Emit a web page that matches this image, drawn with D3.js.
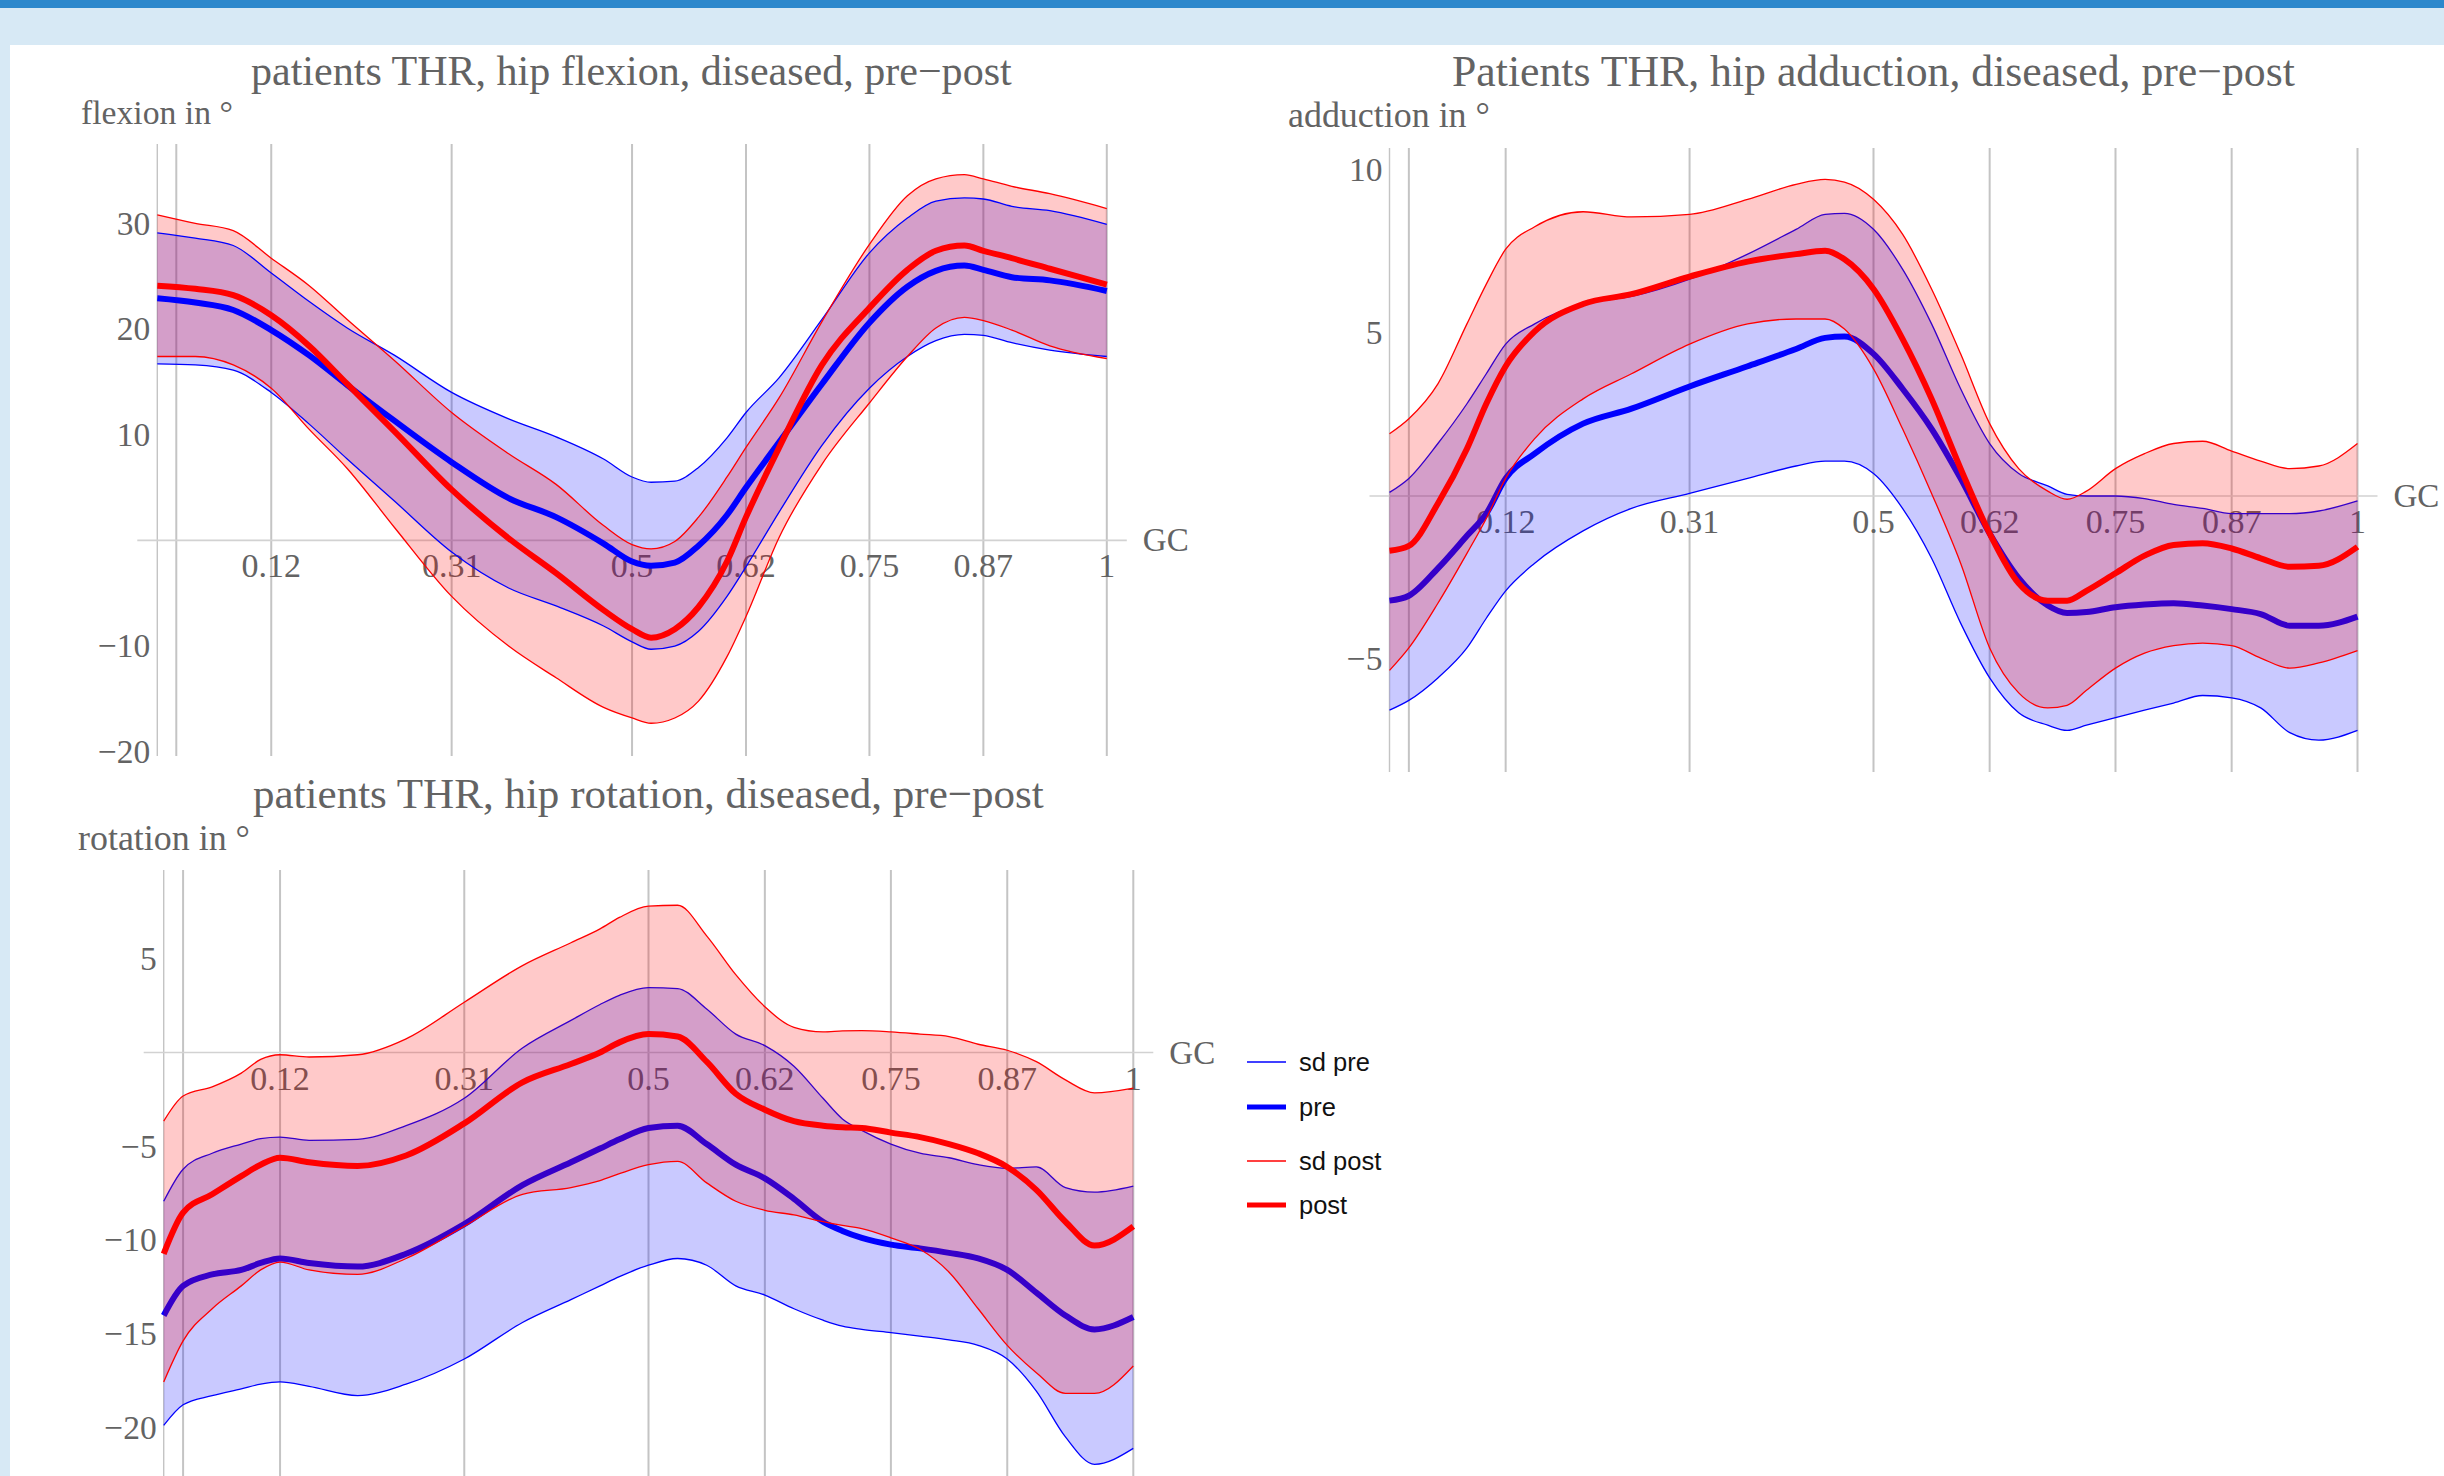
<!DOCTYPE html>
<html><head><meta charset="utf-8">
<script src="https://cdn.jsdelivr.net/npm/d3@7"></script>
<style>html,body{margin:0;padding:0;background:#d7e9f5;overflow:hidden}</style>
</head><body>
<svg id="chart" width="2444" height="1476"></svg>
<script>
// ---------------- DATA ----------------
const titles = ["patients THR, hip flexion, diseased, pre\u2212post",
                "Patients THR, hip adduction, diseased, pre\u2212post",
                "patients THR, hip rotation, diseased, pre\u2212post"];
const yLabels = ["flexion in \u00B0", "adduction in \u00B0", "rotation in \u00B0"];
const xAxisName = "GC";
const gridValues = [0.02, 0.12, 0.31, 0.5, 0.62, 0.75, 0.87, 1];
const xTickValues = [0.12, 0.31, 0.5, 0.62, 0.75, 0.87, 1];
const xTickLabels = ["0.12", "0.31", "0.5", "0.62", "0.75", "0.87", "1"];
const flexYTicks = [30, 20, 10, -10, -20];
const addYTicks = [10, 5, -5];
const rotYTicks = [5, -5, -10, -15, -20];
const legendLabels = ["sd pre", "pre", "sd post", "post"];

// flexion (gait cycle sample points)
const gcFlex = [0,0.04,0.08,0.12,0.16,0.2,0.25,0.31,0.37,0.42,0.47,0.5,0.52,0.545,0.57,0.6,0.62,0.655,0.7,0.75,0.79,0.82,0.85,0.87,0.9,0.94,1];
const flexPreMean  = [22.9,22.5,21.8,19.9,17.5,14.7,11.3,7.4,4.0,2.2,-0.3,-2.0,-2.4,-2.1,-0.5,2.4,5.0,9.3,14.8,20.6,24.0,25.5,26.0,25.6,24.9,24.6,23.6];
const flexPreUpper = [29.1,28.6,27.9,25.3,22.6,20.1,17.5,14.0,11.5,9.8,7.7,6.0,5.5,5.6,6.9,9.7,12.1,15.4,20.9,27.2,30.5,32.1,32.4,32.3,31.6,31.2,29.9];
const flexPreLower = [16.7,16.6,16.1,14.0,11.0,7.7,3.7,-1.1,-4.5,-6.2,-8.1,-9.6,-10.3,-10.0,-8.6,-5.3,-2.5,2.7,9.0,14.4,17.4,18.9,19.5,19.4,18.7,18.0,17.4];
const flexPostMean  = [24.1,23.8,23.2,21.3,18.4,14.8,10.3,4.8,0.2,-3.1,-6.6,-8.4,-9.2,-8.4,-6.3,-2.0,2.2,8.8,16.6,22.0,25.6,27.4,27.9,27.4,26.7,25.7,24.2];
const flexPostUpper = [30.8,30.0,29.3,26.7,24.1,20.9,17.0,12.1,8.2,5.3,1.4,-0.4,-0.8,-0.1,2.2,6.0,8.8,13.5,20.7,28.0,32.6,34.2,34.6,34.2,33.5,32.8,31.4];
const flexPostLower = [17.4,17.4,16.6,14.4,10.5,6.8,1.2,-5.3,-10.0,-13.0,-15.8,-16.8,-17.3,-16.8,-15.2,-11.0,-7.2,0.3,7.2,13.0,17.4,20.1,21.1,20.8,19.9,18.4,17.2];

// adduction and rotation (gait cycle sample points)
const gcAR = [0,0.02,0.05,0.08,0.1,0.12,0.15,0.2,0.25,0.31,0.37,0.42,0.45,0.47,0.5,0.53,0.56,0.59,0.62,0.65,0.68,0.7,0.72,0.75,0.78,0.81,0.84,0.87,0.9,0.93,0.96,1];
const addPreMean  = [-3.21,-3.06,-2.22,-1.22,-0.54,0.54,1.30,2.22,2.68,3.36,3.98,4.51,4.85,4.89,4.36,3.29,2.06,0.54,-1.15,-2.52,-3.36,-3.59,-3.56,-3.41,-3.33,-3.29,-3.36,-3.47,-3.62,-3.98,-3.98,-3.70];
const addPreUpper = [0.11,0.54,1.61,2.83,3.75,4.66,5.28,5.89,6.12,6.65,7.42,8.18,8.64,8.67,8.18,6.96,5.28,3.29,1.61,0.69,0.31,0.05,0.0,0.0,-0.08,-0.26,-0.38,-0.54,-0.54,-0.54,-0.46,-0.15];
const addPreLower = [-6.57,-6.27,-5.58,-4.66,-3.75,-2.91,-2.06,-1.07,-0.38,0.08,0.54,0.92,1.07,1.07,0.69,-0.38,-1.91,-3.90,-5.58,-6.65,-7.03,-7.19,-7.03,-6.80,-6.57,-6.35,-6.12,-6.19,-6.50,-7.26,-7.49,-7.19];
const addPostMean  = [-1.68,-1.53,-0.23,1.45,2.83,3.98,5.05,5.89,6.19,6.73,7.19,7.42,7.52,7.26,6.35,4.82,2.98,0.84,-1.15,-2.68,-3.21,-3.21,-2.91,-2.37,-1.83,-1.50,-1.45,-1.61,-1.91,-2.17,-2.14,-1.56];
const addPostUpper = [1.91,2.37,3.44,5.28,6.50,7.57,8.26,8.72,8.56,8.64,9.10,9.56,9.71,9.63,9.10,8.03,6.35,4.36,2.22,0.84,0.15,-0.10,0.15,0.84,1.30,1.61,1.68,1.38,1.07,0.84,0.92,1.61];
const addPostLower = [-5.35,-4.66,-3.29,-1.76,-0.69,0.54,1.76,2.98,3.75,4.66,5.28,5.43,5.43,5.12,3.90,2.06,0.08,-2.06,-4.66,-6.04,-6.50,-6.42,-5.96,-5.28,-4.82,-4.59,-4.51,-4.59,-4.97,-5.28,-5.12,-4.74];

const rotPreMean  = [-14.02,-12.44,-11.83,-11.59,-11.22,-10.98,-11.22,-11.41,-10.73,-9.15,-7.07,-5.85,-5.12,-4.63,-4.02,-3.90,-4.88,-5.98,-6.71,-7.80,-9.02,-9.51,-9.88,-10.24,-10.44,-10.68,-10.98,-11.59,-12.80,-14.02,-14.76,-14.10];
const rotPreUpper = [-7.93,-6.22,-5.37,-4.88,-4.59,-4.51,-4.68,-4.63,-3.90,-2.44,0.24,1.71,2.56,3.05,3.46,3.41,2.32,0.98,0.37,-0.73,-2.44,-3.54,-4.15,-4.88,-5.37,-5.61,-5.98,-6.17,-6.10,-7.20,-7.44,-7.12];
const rotPreLower = [-19.88,-18.78,-18.29,-17.93,-17.68,-17.56,-17.80,-18.29,-17.68,-16.34,-14.39,-13.17,-12.44,-11.95,-11.34,-10.98,-11.34,-12.44,-12.93,-13.66,-14.27,-14.59,-14.76,-14.93,-15.12,-15.32,-15.61,-16.34,-18.05,-20.49,-21.95,-21.10];
const rotPostMean  = [-10.73,-8.54,-7.56,-6.59,-5.98,-5.61,-5.85,-6.05,-5.49,-3.78,-1.59,-0.61,0.0,0.54,0.98,0.85,-0.49,-2.20,-3.05,-3.66,-3.90,-3.98,-4.02,-4.27,-4.51,-4.88,-5.37,-6.10,-7.32,-9.02,-10.29,-9.27];
const rotPostUpper = [-3.66,-2.32,-1.83,-1.10,-0.37,-0.12,-0.24,-0.12,0.73,2.68,4.63,5.85,6.59,7.20,7.80,7.85,6.22,4.15,2.44,1.34,1.10,1.15,1.17,1.10,0.98,0.85,0.44,0.12,-0.49,-1.46,-2.15,-1.90];
const rotPostLower = [-17.56,-15.37,-13.66,-12.44,-11.59,-11.17,-11.59,-11.83,-10.98,-9.27,-7.56,-7.20,-6.83,-6.46,-5.98,-5.80,-6.95,-7.93,-8.41,-8.66,-9.02,-9.22,-9.39,-9.88,-10.49,-11.71,-13.66,-15.61,-17.07,-18.17,-18.17,-16.71];

// ---------------- LAYOUT ----------------
const W = 2444, H = 1476;
const BLUE = "#0000ff", RED = "#ff0000";
const BLUE_FILL = "rgba(0,0,255,0.21)", RED_FILL = "rgba(255,0,0,0.21)";
const SERIF = "'Liberation Serif','Times New Roman',serif";
const SANS = "'Liberation Sans',Arial,sans-serif";
const TXT = "#636363";

const svg = d3.select("#chart");
svg.append("rect").attr("width", W).attr("height", H).attr("fill", "#d7e9f5");
svg.append("rect").attr("width", W).attr("height", 8).attr("fill", "#2c88cc");
svg.append("rect").attr("x", 10).attr("y", 45).attr("width", W - 10).attr("height", H - 45).attr("fill", "#ffffff");

const panels = [
  { gc: gcFlex, pre: [flexPreLower, flexPreMean, flexPreUpper], post: [flexPostLower, flexPostMean, flexPostUpper],
    yTicks: flexYTicks, title: titles[0], ylabel: yLabels[0],
    xr: [157.3, 1106.8], y0: 540.4, ppu: 10.57, gridTop: 144, gridBottom: 756, linesOnTop: true,
    titleBox: [251, 1012, 85], labelBox: [81, 233, 124] },
  { gc: gcAR, pre: [addPreLower, addPreMean, addPreUpper], post: [addPostLower, addPostMean, addPostUpper],
    yTicks: addYTicks, title: titles[1], ylabel: yLabels[1],
    xr: [1389.5, 2357.5], y0: 496, ppu: 32.6, gridTop: 148, gridBottom: 772, linesOnTop: false,
    titleBox: [1452, 2295, 86], labelBox: [1288, 1490, 127] },
  { gc: gcAR, pre: [rotPreLower, rotPreMean, rotPreUpper], post: [rotPostLower, rotPostMean, rotPostUpper],
    yTicks: rotYTicks, title: titles[2], ylabel: yLabels[2],
    xr: [163.7, 1133.3], y0: 1052.5, ppu: 18.76, gridTop: 870, gridBottom: 1480, linesOnTop: false,
    titleBox: [253, 1044, 808], labelBox: [78, 250, 850] }
];

function fitText(sel, x0, x1) {
  const w = sel.node().getComputedTextLength();
  const fs = parseFloat(sel.attr("font-size"));
  sel.attr("font-size", fs * (x1 - x0) / w);
}
const fmt = v => (v < 0 ? "\u2212" + Math.abs(v) : String(v));

panels.forEach(p => {
  const g = svg.append("g");
  const x = d3.scaleLinear().domain([0, 1]).range(p.xr);
  const y = d3.scaleLinear().domain([0, 1]).range([p.y0, p.y0 - p.ppu]);
  const ax = y(0);

  // y axis line
  g.append("line").attr("x1", x(0)).attr("x2", x(0)).attr("y1", p.gridTop).attr("y2", p.gridBottom)
    .attr("stroke", "#c4c4c4").attr("stroke-width", 1.4);
  // vertical grid lines
  g.selectAll("line.grid").data(gridValues).join("line").attr("class", "grid")
    .attr("x1", d => x(d)).attr("x2", d => x(d)).attr("y1", p.gridTop).attr("y2", p.gridBottom)
    .attr("stroke", "#c4c4c4").attr("stroke-width", 2);
  // x axis line at 0
  g.append("line").attr("x1", x(0) - 20).attr("x2", x(1) + 20).attr("y1", ax).attr("y2", ax)
    .attr("stroke", "#d2d2d2").attr("stroke-width", 1.6);

  // y tick labels
  g.selectAll("text.yt").data(p.yTicks).join("text").attr("class", "yt")
    .attr("x", x(0) - 7).attr("y", d => y(d)).attr("dy", "0.34em")
    .attr("text-anchor", "end").attr("font-family", SERIF).attr("font-size", 33.5).attr("fill", TXT)
    .text(d => fmt(d));
  // x tick labels
  g.selectAll("text.xt").data(xTickValues).join("text").attr("class", "xt")
    .attr("x", d => x(d)).attr("y", ax + 37)
    .attr("text-anchor", "middle").attr("font-family", SERIF).attr("font-size", 34).attr("fill", TXT)
    .text((d, i) => xTickLabels[i]);
  // axis name
  g.append("text").attr("x", x(1) + 36).attr("y", ax + 11)
    .attr("font-family", SERIF).attr("font-size", 33).attr("fill", TXT).text(xAxisName);
  // title and y label
  const t = g.append("text").attr("x", p.titleBox[0]).attr("y", p.titleBox[2])
    .attr("font-family", SERIF).attr("font-size", 40).attr("fill", TXT).text(p.title);
  fitText(t, p.titleBox[0], p.titleBox[1]);
  const l = g.append("text").attr("x", p.labelBox[0]).attr("y", p.labelBox[2])
    .attr("font-family", SERIF).attr("font-size", 33).attr("fill", TXT).text(p.ylabel);
  fitText(l, p.labelBox[0], p.labelBox[1]);

  const curve = d3.curveMonotoneX;
  const idx = d3.range(p.gc.length);
  const area = (lo, up) => d3.area().curve(curve).x(i => x(p.gc[i])).y0(i => y(lo[i])).y1(i => y(up[i]))(idx);
  const line = arr => d3.line().curve(curve).x(i => x(p.gc[i])).y(i => y(arr[i]))(idx);

  const drawBand = (s, fill) => g.append("path").attr("d", area(s[0], s[2])).attr("fill", fill);
  const drawLines = (s, col) => {
    g.append("path").attr("d", line(s[0])).attr("fill", "none").attr("stroke", col).attr("stroke-width", 1.3);
    g.append("path").attr("d", line(s[2])).attr("fill", "none").attr("stroke", col).attr("stroke-width", 1.3);
    g.append("path").attr("d", line(s[1])).attr("fill", "none").attr("stroke", col).attr("stroke-width", 6)
      .attr("stroke-linejoin", "round");
  };
  if (p.linesOnTop) {
    drawBand(p.pre, BLUE_FILL); drawBand(p.post, RED_FILL);
    drawLines(p.pre, BLUE); drawLines(p.post, RED);
  } else {
    drawBand(p.pre, BLUE_FILL); drawLines(p.pre, BLUE);
    drawBand(p.post, RED_FILL); drawLines(p.post, RED);
  }
});

// legend
const legRows = [1062, 1107, 1161, 1205];
const legCols = [BLUE, BLUE, RED, RED];
const legW = [1.5, 5, 1.5, 5];
const leg = svg.append("g");
leg.selectAll("line").data(legendLabels).join("line")
  .attr("x1", 1247).attr("x2", 1286).attr("y1", (d, i) => legRows[i]).attr("y2", (d, i) => legRows[i])
  .attr("stroke", (d, i) => legCols[i]).attr("stroke-width", (d, i) => legW[i]);
leg.selectAll("text").data(legendLabels).join("text")
  .attr("x", 1299).attr("y", (d, i) => legRows[i] + 8.5)
  .attr("font-family", SANS).attr("font-size", 25.5).attr("fill", "#111").text(d => d);
</script>
</body></html>
